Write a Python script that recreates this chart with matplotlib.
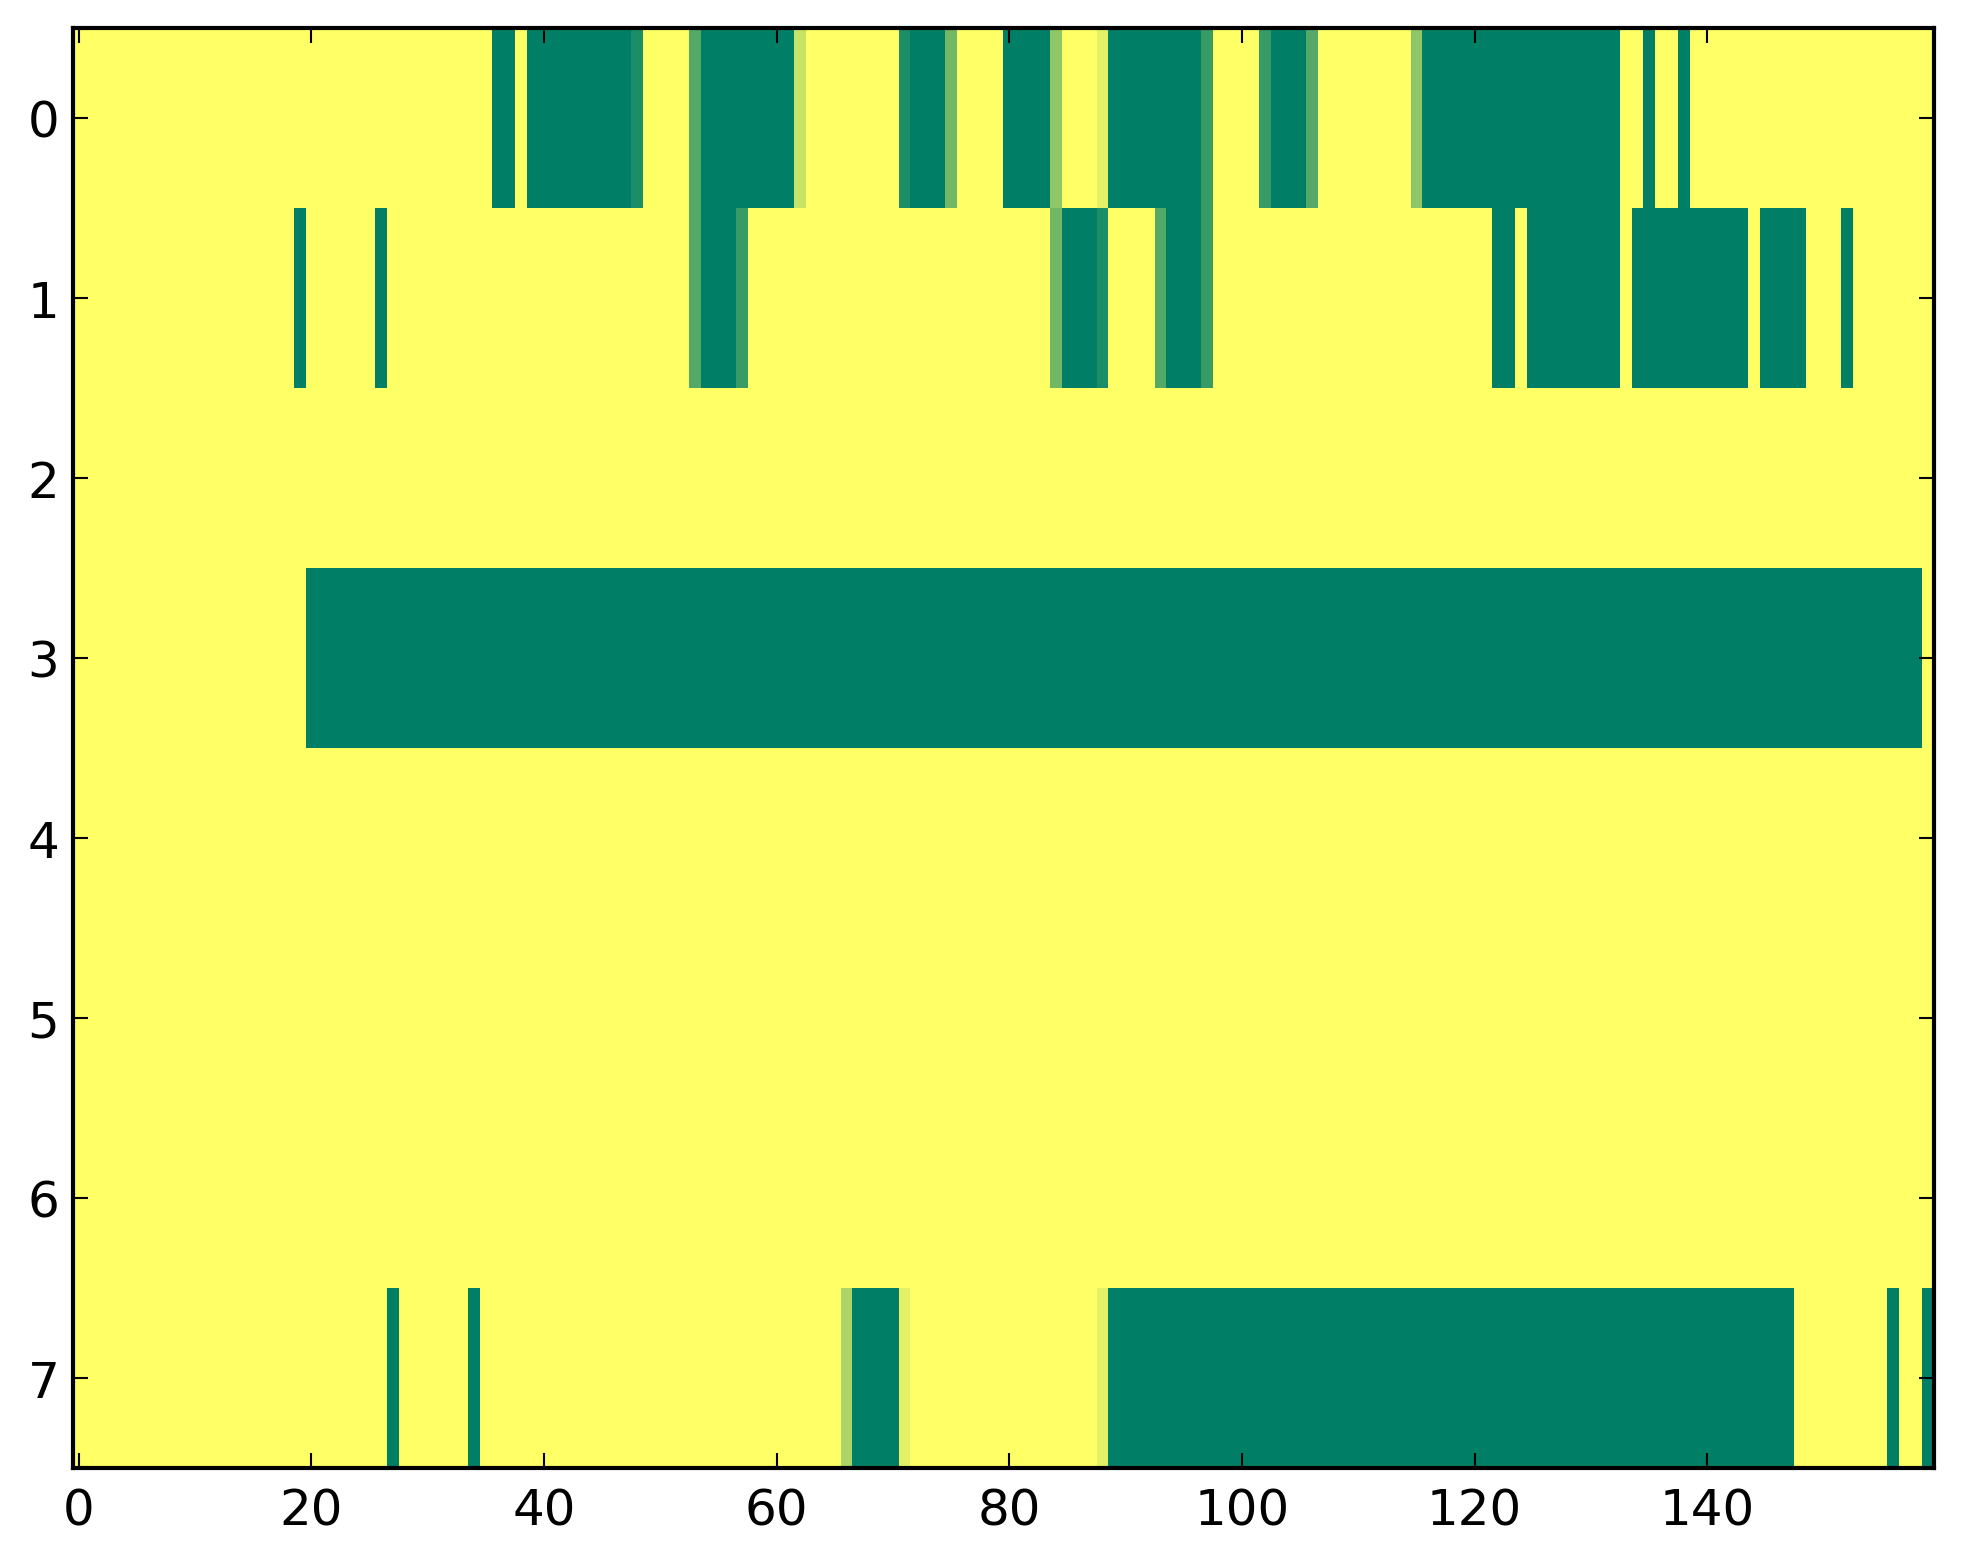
import numpy as np
import matplotlib
matplotlib.use('Agg')
import matplotlib.pyplot as plt

# one list per row, 160 columns, values 0..1
row0 = [0, 0, 0, 0, 0, 0, 0, 0, 0, 0, 0, 0, 0, 0, 0, 0, 0, 0, 0, 0,
        0, 0, 0, 0, 0, 0, 0, 0, 0, 0, 0, 0, 0, 0, 0, 0, 1, 1, 0, 1,
        1, 1, 1, 1, 1, 1, 1, 1, 0.89, 0, 0, 0, 0, 0.67, 1, 1, 1, 1, 1, 1,
        1, 1, 0.22, 0, 0, 0, 0, 0, 0, 0, 0, 0.89, 1, 1, 1, 0.56, 0, 0, 0, 0,
        1, 1, 1, 1, 0.44, 0, 0, 0, 0.11, 1, 1, 1, 1, 1, 1, 1, 1, 0.78, 0, 0,
        0, 0, 0.78, 1, 1, 1, 0.67, 0, 0, 0, 0, 0, 0, 0, 0, 0.44, 1, 1, 1, 1,
        1, 1, 1, 1, 1, 1, 1, 1, 1, 1, 1, 1, 1, 0, 0, 1, 0, 0, 1, 0,
        0, 0, 0, 0, 0, 0, 0, 0, 0, 0, 0, 0, 0, 0, 0, 0, 0, 0, 0, 0]

row1 = [0, 0, 0, 0, 0, 0, 0, 0, 0, 0, 0, 0, 0, 0, 0, 0, 0, 0, 0, 1,
        0, 0, 0, 0, 0, 0, 1, 0, 0, 0, 0, 0, 0, 0, 0, 0, 0, 0, 0, 0,
        0, 0, 0, 0, 0, 0, 0, 0, 0, 0, 0, 0, 0, 0.67, 1, 1, 1, 0.78, 0, 0,
        0, 0, 0, 0, 0, 0, 0, 0, 0, 0, 0, 0, 0, 0, 0, 0, 0, 0, 0, 0,
        0, 0, 0, 0, 0.56, 1, 1, 1, 0.89, 0, 0, 0, 0, 0.67, 1, 1, 1, 0.78, 0, 0,
        0, 0, 0, 0, 0, 0, 0, 0, 0, 0, 0, 0, 0, 0, 0, 0, 0, 0, 0, 0,
        0, 0, 1, 1, 0, 1, 1, 1, 1, 1, 1, 1, 1, 0, 1, 1, 1, 1, 1, 1,
        1, 1, 1, 1, 0, 1, 1, 1, 1, 0, 0, 0, 1, 0, 0, 0, 0, 0, 0, 0]

row2 = [0] * 160

row3 = [0, 0, 0, 0, 0, 0, 0, 0, 0, 0, 0, 0, 0, 0, 0, 0, 0, 0, 0, 0,
        1, 1, 1, 1, 1, 1, 1, 1, 1, 1, 1, 1, 1, 1, 1, 1, 1, 1, 1, 1,
        1, 1, 1, 1, 1, 1, 1, 1, 1, 1, 1, 1, 1, 1, 1, 1, 1, 1, 1, 1,
        1, 1, 1, 1, 1, 1, 1, 1, 1, 1, 1, 1, 1, 1, 1, 1, 1, 1, 1, 1,
        1, 1, 1, 1, 1, 1, 1, 1, 1, 1, 1, 1, 1, 1, 1, 1, 1, 1, 1, 1,
        1, 1, 1, 1, 1, 1, 1, 1, 1, 1, 1, 1, 1, 1, 1, 1, 1, 1, 1, 1,
        1, 1, 1, 1, 1, 1, 1, 1, 1, 1, 1, 1, 1, 1, 1, 1, 1, 1, 1, 1,
        1, 1, 1, 1, 1, 1, 1, 1, 1, 1, 1, 1, 1, 1, 1, 1, 1, 1, 1, 0]

row4 = [0] * 160
row5 = [0] * 160
row6 = [0] * 160

row7 = [0, 0, 0, 0, 0, 0, 0, 0, 0, 0, 0, 0, 0, 0, 0, 0, 0, 0, 0, 0,
        0, 0, 0, 0, 0, 0, 0, 1, 0, 0, 0, 0, 0, 0, 1, 0, 0, 0, 0, 0,
        0, 0, 0, 0, 0, 0, 0, 0, 0, 0, 0, 0, 0, 0, 0, 0, 0, 0, 0, 0,
        0, 0, 0, 0, 0, 0, 0.33, 1, 1, 1, 1, 0.11, 0, 0, 0, 0, 0, 0, 0, 0,
        0, 0, 0, 0, 0, 0, 0, 0, 0.11, 1, 1, 1, 1, 1, 1, 1, 1, 1, 1, 1,
        1, 1, 1, 1, 1, 1, 1, 1, 1, 1, 1, 1, 1, 1, 1, 1, 1, 1, 1, 1,
        1, 1, 1, 1, 1, 1, 1, 1, 1, 1, 1, 1, 1, 1, 1, 1, 1, 1, 1, 1,
        1, 1, 1, 1, 1, 1, 1, 1, 0, 0, 0, 0, 0, 0, 0, 0, 1, 0, 0, 1]

xticks = [0, 20, 40, 60, 80, 100, 120, 140]
yticks = [0, 1, 2, 3, 4, 5, 6, 7]

data = np.array([row0, row1, row2, row3, row4, row5, row6, row7])

plt.rcParams['font.family'] = 'DejaVu Sans'
plt.rcParams['font.size'] = 12

fig = plt.figure(figsize=(1963 / 300, 1564 / 300), dpi=300)
ax = fig.add_axes([73 / 1963, 95 / 1564, (1934 - 73) / 1963, (1469 - 29) / 1564])

ax.imshow(data, cmap='summer_r', vmin=0, vmax=1, interpolation='nearest', aspect='auto')

ax.set_xticks(xticks)
ax.set_yticks(yticks)
ax.tick_params(direction='in', top=True, right=True, length=3.6, width=0.5)
ax.tick_params(axis='x', pad=4.5)
ax.tick_params(axis='y', pad=3.3)
for s in ax.spines.values():
    s.set_linewidth(1.0)

fig.savefig('out.png', dpi=300, facecolor='white')
